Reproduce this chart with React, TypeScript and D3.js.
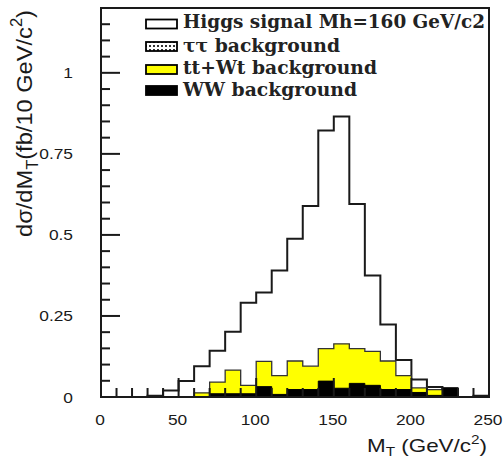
import React from "react";
import * as d3 from "d3";

// Bin lower edges (GeV/c^2), 10 GeV wide bins from 0 to 250
const binEdges = [0, 10, 20, 30, 40, 50, 60, 70, 80, 90, 100, 110, 120, 130, 140, 150, 160, 170, 180, 190, 200, 210, 220, 230, 240];
const binWidth = 10;

// Higgs signal (Mh = 160 GeV/c2)
const higgsSignal = [0, 0, 0, 0.004, 0.02, 0.049, 0.095, 0.143, 0.201, 0.291, 0.322, 0.39, 0.488, 0.589, 0.822, 0.865, 0.595, 0.375, 0.224, 0.114, 0.054, 0.031, 0.02, 0, 0.004];
// tt + Wt background (drawn stacked on WW)
const ttWtBackground = [0, 0, 0, 0, 0, 0, 0.013, 0.036, 0.073, 0.026, 0.078, 0.058, 0.088, 0.072, 0.1, 0.137, 0.107, 0.105, 0.088, 0.043, 0.014, 0.018, 0, 0, 0];
// WW background
const wwBackground = [0, 0, 0, 0, 0, 0, 0, 0.01, 0.01, 0.01, 0.032, 0.008, 0.023, 0.023, 0.049, 0.027, 0.042, 0.036, 0.023, 0.023, 0.014, 0.005, 0.028, 0, 0];

const yTickLabels = ["0", "0.25", "0.5", "0.75", "1"];
const xTickLabels = ["0", "50", "100", "150", "200", "250"];
const legendLabels = ["Higgs signal Mh=160 GeV/c2", "\u03c4\u03c4 background", "tt+Wt background", "WW background"];

const W = 504;
const H = 461;
const left = 101;
const right = 489;
const top = 8;
const bottom = 397;

export default function App() {
  const x = d3.scaleLinear().domain([0, 250]).range([left, right]);
  const y = d3.scaleLinear().domain([0, 1.2]).range([bottom, top]);

  const stepPath = (vals: number[]) => {
    const pts: [number, number][] = [];
    const nz = vals.map((v, i) => (v > 0 ? i : -1)).filter((i) => i >= 0);
    const first = nz[0];
    const last = nz[nz.length - 1];
    pts.push([x(binEdges[first]), y(0)]);
    for (let i = first; i <= last; i++) {
      pts.push([x(binEdges[i]), y(vals[i])]);
      pts.push([x(binEdges[i] + binWidth), y(vals[i])]);
    }
    pts.push([x(binEdges[last] + binWidth), y(0)]);
    return d3.line()(pts) + "Z";
  };

  const stacked = ttWtBackground.map((v, i) => v + wwBackground[i]);

  const yMajor = d3.range(0, 1.2001, 0.25);
  const yMinor = d3.range(0, 1.2001, 0.05).filter((v) => Math.abs(v / 0.25 - Math.round(v / 0.25)) > 1e-6);
  const xMajor = d3.range(0, 251, 50);
  const xMinor = d3.range(0, 251, 10).filter((v) => v % 50 !== 0);

  const sans = "'Liberation Sans', Arial, Helvetica, sans-serif";
  const serif = "'DejaVu Serif', serif";
  const ink = "#1a1a1a";

  const legendRows = [
    { base: 28, boxTop: 19.5 },
    { base: 52, boxTop: 42 },
    { base: 74, boxTop: 65 },
    { base: 95.5, boxTop: 86 },
  ];
  const legendWidths = [302, 157, 194, 174];

  return (
    <svg width={W} height={H} style={{ position: "absolute", left: 0, top: 0, background: "#fff" }}>
      <defs>
        <pattern id="dots" width="4" height="4" patternUnits="userSpaceOnUse">
          <rect width="4" height="4" fill="#fff" />
          <rect x="1" y="1" width="2" height="2" fill="#333" />
        </pattern>
      </defs>
      <rect width={W} height={H} fill="#fff" />

      {/* signal */}
      <path d={stepPath(higgsSignal)} fill="#fff" stroke={ink} strokeWidth={2} />
      {/* tt+Wt stacked on WW */}
      <path d={stepPath(stacked)} fill="#ffff00" stroke="#333" strokeWidth={1.3} />
      {/* WW */}
      <path d={stepPath(wwBackground)} fill="#000" stroke="#000" strokeWidth={1} />

      {/* ticks */}
      {yMajor.map((v) => (
        <line key={"ym" + v} x1={left} x2={left + 19} y1={y(v)} y2={y(v)} stroke={ink} strokeWidth={2} />
      ))}
      {yMinor.map((v) => (
        <line key={"yn" + v} x1={left} x2={left + 9} y1={y(v)} y2={y(v)} stroke={ink} strokeWidth={2} />
      ))}
      {xMajor.map((v) => (
        <line key={"xm" + v} x1={x(v)} x2={x(v)} y1={bottom} y2={bottom - 19} stroke={ink} strokeWidth={2} />
      ))}
      {xMinor.map((v) => (
        <line key={"xn" + v} x1={x(v)} x2={x(v)} y1={bottom} y2={bottom - 9} stroke={ink} strokeWidth={2} />
      ))}

      {/* frame */}
      <rect x={left} y={top} width={right - left} height={bottom - top} fill="none" stroke={ink} strokeWidth={2} />

      {/* y tick labels */}
      {yTickLabels.map((t, i) => (
        <text
          key={"yl" + t}
          transform={`translate(73,${y(yMajor[i]) + 5.5}) scale(1.12,1)`}
          textAnchor="end"
          fontFamily={sans}
          fontSize={15.5}
          fill={ink}
        >
          {t}
        </text>
      ))}
      {/* x tick labels */}
      {xTickLabels.map((t, i) => (
        <text
          key={"xl" + t}
          transform={`translate(${x(xMajor[i]) - 1},425) scale(1.12,1)`}
          textAnchor="middle"
          fontFamily={sans}
          fontSize={15.5}
          fill={ink}
        >
          {t}
        </text>
      ))}

      {/* x axis title */}
      <text x={487} y={452} textAnchor="end" fontFamily={sans} fontSize={19} fill={ink} textLength={120} lengthAdjust="spacingAndGlyphs">
        M<tspan fontSize={13} dy={4}>T</tspan>
        <tspan dy={-4}> (GeV/c</tspan>
        <tspan fontSize={13} dy={-8}>2</tspan>
        <tspan dy={8}>)</tspan>
      </text>

      {/* y axis title */}
      <text
        transform={`translate(32,237) scale(1.12,1) rotate(-90)`}
        textAnchor="start"
        fontFamily={sans}
        fontSize={20}
        fill={ink}
        textLength={227}
        lengthAdjust="spacingAndGlyphs"
      >
        d{"\u03c3"}/dM<tspan fontSize={14} dy={5}>T</tspan>
        <tspan dy={-5}>(fb/10 GeV/c</tspan>
        <tspan fontSize={14} dy={-9}>2</tspan>
        <tspan dy={9}>)</tspan>
      </text>

      {/* legend */}
      {legendRows.map((r, i) => {
        const fill = i === 0 ? "#fff" : i === 1 ? "url(#dots)" : i === 2 ? "#ffff00" : "#000";
        return (
          <g key={"lg" + i}>
            <rect x={146} y={r.boxTop} width={31} height={9} fill={fill} stroke="#000" strokeWidth={1.8} />
            <text
              x={183}
              y={r.base}
              fontFamily={serif}
              fontWeight="bold"
              fontSize={19}
              fill="#222"
              textLength={legendWidths[i]}
              lengthAdjust="spacingAndGlyphs"
            >
              {legendLabels[i]}
            </text>
          </g>
        );
      })}
    </svg>
  );
}
